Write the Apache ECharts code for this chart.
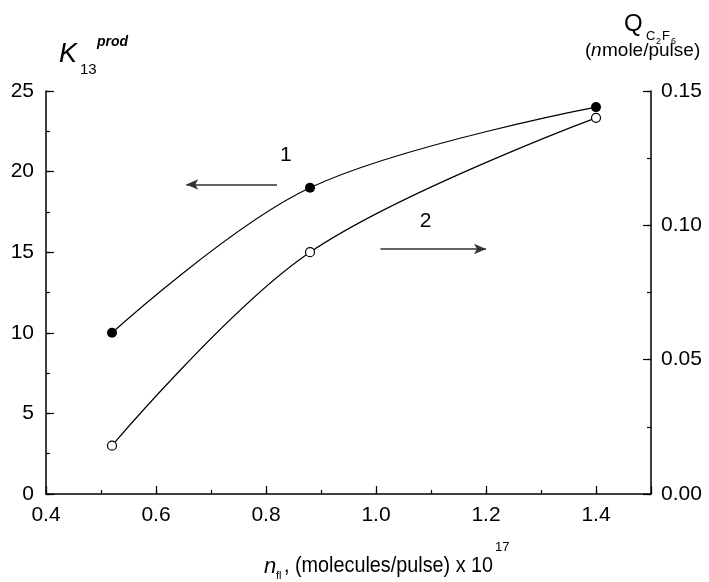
<!DOCTYPE html>
<html>
<head>
<meta charset="utf-8">
<script src="https://cdn.jsdelivr.net/npm/echarts@6/dist/echarts.min.js"></script>
<style>
    html, body { margin: 0; padding: 0; background: #fff; }
    #chart { width: 709px; height: 582px; }
</style>
</head>
<body>
<div id="chart"></div>
<script>
    // data
    var nfl = [0.52, 0.88, 1.40];
    var k13 = [10, 19, 24];          // curve 1, left axis
    var qC2F6 = [0.018, 0.09, 0.140]; // curve 2, right axis
    var leftTicks = [0, 5, 10, 15, 20, 25];
    var rightTicks = [0, 0.05, 0.10, 0.15];

    // arrows and their labels, in data units
    var arrow1 = [[0.82, 19.2], [0.655, 19.2]];
    var arrow2 = [[1.008, 15.2], [1.20, 15.2]];
    var label1 = [0.836, 21.0];
    var label2 = [1.09, 16.9];

    var font = 'Liberation Sans, Arial, sans-serif';

    function pairs(xs, ys) {
        return xs.map(function (x, i) { return [x, ys[i]]; });
    }

    let myChart = echarts.init(document.getElementById('chart'));
    let axisLine = { show: true, lineStyle: { color: '#000', width: 1.5 } };
    let majorTick = { inside: true, length: 8, lineStyle: { color: '#000', width: 1.2 } };
    // minor ticks come from extra axes with half the interval
    let shortTick = { inside: true, length: 4, lineStyle: { color: '#000', width: 1.2 } };
    let option = {
        backgroundColor: '#fff',
        animation: false,
        grid: { left: 46, right: 58, top: 91, bottom: 88 },
        xAxis: [{
            type: 'value',
            min: 0.4, max: 1.5, interval: 0.2,
            axisLine: axisLine,
            axisTick: majorTick,
            splitLine: { show: false },
            axisLabel: {
                color: '#000', fontFamily: font, fontSize: 21, margin: 11,
                formatter: function (v) { return v > 1.45 ? '' : v.toFixed(1); }
            }
        }, {
            type: 'value', position: 'bottom',
            min: 0.4, max: 1.5, interval: 0.1,
            axisLine: { show: false }, axisTick: shortTick,
            axisLabel: { show: false }, splitLine: { show: false }
        }],
        yAxis: [{
            type: 'value',
            min: 0, max: 25, interval: 5,
            axisLine: axisLine,
            axisTick: majorTick,
            splitLine: { show: false },
            axisLabel: {
                color: '#000', fontFamily: font, fontSize: 21, margin: 12,
                formatter: function (v) { return leftTicks.indexOf(v) >= 0 ? String(v) : ''; }
            }
        }, {
            type: 'value',
            position: 'right',
            min: 0, max: 0.15, interval: 0.05,
            axisLine: axisLine,
            axisTick: majorTick,
            splitLine: { show: false },
            axisLabel: {
                color: '#000', fontFamily: font, fontSize: 21, margin: 10,
                formatter: function (v) {
                    var hit = rightTicks.some(function (t) { return Math.abs(t - v) < 1e-9; });
                    return hit ? v.toFixed(2) : '';
                }
            }
        }, {
            type: 'value', position: 'left',
            min: 0, max: 25, interval: 2.5,
            axisLine: { show: false }, axisTick: shortTick,
            axisLabel: { show: false }, splitLine: { show: false }
        }, {
            type: 'value', position: 'right',
            min: 0, max: 0.15, interval: 0.025,
            axisLine: { show: false }, axisTick: shortTick,
            axisLabel: { show: false }, splitLine: { show: false }
        }],
        graphic: [
            // left axis title: K13^prod
            { type: 'text', left: 59, top: 41, style: { text: 'K', font: 'italic 27px ' + font, fill: '#000' } },
            { type: 'text', left: 80, top: 62, style: { text: '13', font: '15px ' + font, fill: '#000' } },
            { type: 'text', left: 97, top: 35, style: { text: 'prod', font: 'italic bold 14px ' + font, fill: '#000' } },
            // right axis title: Q_C2F6 (nmole/pulse)
            { type: 'text', left: 624, top: 12, style: { text: 'Q', font: '24px ' + font, fill: '#000' } },
            { type: 'text', left: 646, top: 30, style: { text: 'C', font: '13px ' + font, fill: '#000' } },
            { type: 'text', left: 656, top: 37, style: { text: '2', font: '9px ' + font, fill: '#000' } },
            { type: 'text', left: 662, top: 30, style: { text: 'F', font: '13px ' + font, fill: '#000' } },
            { type: 'text', left: 671, top: 37, style: { text: '6', font: '9px ' + font, fill: '#000' } },
            { type: 'text', left: 585, top: 41, style: { text: '(', font: '19px ' + font, fill: '#000' } },
            { type: 'text', left: 591, top: 41, style: { text: 'n', font: 'italic 19px ' + font, fill: '#000' } },
            { type: 'text', left: 602, top: 41, style: { text: 'mole/pulse)', font: '19px ' + font, fill: '#000' } },
            // x axis title: n_fl, (molecules/pulse) x 10^17
            { type: 'text', left: 264, top: 556, style: { text: 'n', font: 'italic 22px ' + font, fill: '#000' } },
            { type: 'text', left: 276, top: 570, style: { text: 'fl', font: '11px ' + font, fill: '#000' } },
            { type: 'text', left: 284, top: 555, scaleX: 0.9,
              style: { text: ', (molecules/pulse) x 10', font: '22px ' + font, fill: '#000' } },
            { type: 'text', left: 495, top: 541, style: { text: '17', font: '13px ' + font, fill: '#000' } }
        ],
        series: [{
            name: '1',
            type: 'line',
            yAxisIndex: 0,
            smooth: 0.35,
            data: pairs(nfl, k13),
            symbol: 'circle',
            symbolSize: 10,
            itemStyle: { color: '#000' },
            lineStyle: { color: '#000', width: 1.2 },
            markLine: {
                silent: true,
                symbol: ['none', 'arrow'],
                symbolSize: [8, 12],
                label: { show: false },
                lineStyle: { color: '#333', width: 1.5, type: 'solid' },
                data: [[{ coord: arrow1[0] }, { coord: arrow1[1] }],
                       [{ coord: arrow2[0] }, { coord: arrow2[1] }]]
            },
            markPoint: {
                silent: true,
                symbol: 'circle',
                symbolSize: 0,
                label: { show: true, color: '#000', fontFamily: font, fontSize: 21, position: 'inside' },
                data: [{ coord: label1, value: '1' }, { coord: label2, value: '2' }]
            }
        }, {
            name: '2',
            type: 'line',
            yAxisIndex: 1,
            smooth: 0.35,
            data: pairs(nfl, qC2F6),
            symbol: 'circle',
            symbolSize: 9,
            itemStyle: { color: '#fff', borderColor: '#000', borderWidth: 1.2 },
            lineStyle: { color: '#000', width: 1.2 }
        }]
    };
    myChart.setOption(option);
</script>
</body>
</html>
